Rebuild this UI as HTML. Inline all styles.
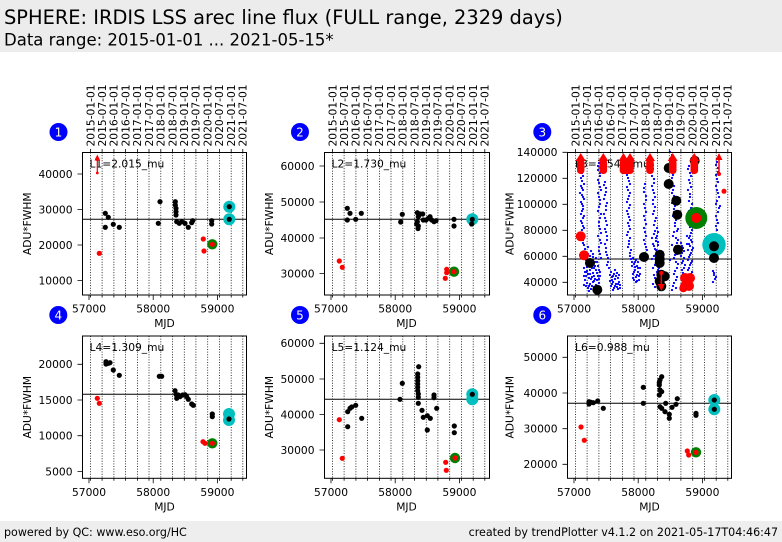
<!DOCTYPE html>
<html><head><meta charset="utf-8"><style>
html,body{margin:0;padding:0;background:#fff;}
body{width:782px;height:542px;overflow:hidden;}
svg{display:block;}
text{font-family:"DejaVu Sans","Liberation Sans",sans-serif;fill:#000;}
.t{font-size:10.7px;}
.n{font-size:12px;fill:#ffffe0;}
.dot{fill:none;stroke:#000;stroke-width:0.8;stroke-dasharray:1,1.6;}
.tk{stroke:#000;stroke-width:0.8;fill:none;}
.sp{fill:none;stroke:#000;stroke-width:1;}
.k{fill:#000;}
.r{fill:#ff0000;}
.g{fill:#008000;}
.c{fill:#00bfbf;}
</style></head><body>
<svg width="782" height="542" viewBox="0 0 782 542" xmlns="http://www.w3.org/2000/svg">
<rect x="0" y="0" width="782" height="52" fill="#ececec"/>
<text x="4" y="24" style="font-size:19.4px">SPHERE: IRDIS LSS arec line flux (FULL range, 2329 days)</text>
<text x="4" y="45.5" style="font-size:16.5px">Data range: 2015-01-01 ... 2021-05-15*</text>

<rect x="0" y="521" width="782" height="21" fill="#eeeeee"/>
<text x="4" y="536" style="font-size:11.1px">powered by QC: www.eso.org/HC</text>
<text x="778" y="536" style="font-size:11.1px" text-anchor="end">created by trendPlotter v4.1.2 on 2021-05-17T04:46:47</text>

<!-- number circles -->
<circle cx="58.5" cy="132" r="9" fill="#0000ff"/><text class="n" x="58.5" y="136.3" text-anchor="middle">1</text>
<circle cx="300" cy="132" r="9" fill="#0000ff"/><text class="n" x="300" y="136.3" text-anchor="middle">2</text>
<circle cx="542.3" cy="132" r="9" fill="#0000ff"/><text class="n" x="542.3" y="136.3" text-anchor="middle">3</text>
<circle cx="58.3" cy="315" r="9" fill="#0000ff"/><text class="n" x="58.3" y="319.3" text-anchor="middle">4</text>
<circle cx="300" cy="315" r="9" fill="#0000ff"/><text class="n" x="300" y="319.3" text-anchor="middle">5</text>
<circle cx="542.3" cy="315" r="9" fill="#0000ff"/><text class="n" x="542.3" y="319.3" text-anchor="middle">6</text>

<!-- top date labels -->
<g class="t">
<text class="t" transform="translate(94.3,146.5) rotate(-90)">2015-01-01</text>
<text class="t" transform="translate(105.9,146.5) rotate(-90)">2015-07-01</text>
<text class="t" transform="translate(117.7,146.5) rotate(-90)">2016-01-01</text>
<text class="t" transform="translate(129.4,146.5) rotate(-90)">2016-07-01</text>
<text class="t" transform="translate(141.2,146.5) rotate(-90)">2017-01-01</text>
<text class="t" transform="translate(152.8,146.5) rotate(-90)">2017-07-01</text>
<text class="t" transform="translate(164.6,146.5) rotate(-90)">2018-01-01</text>
<text class="t" transform="translate(176.3,146.5) rotate(-90)">2018-07-01</text>
<text class="t" transform="translate(188.1,146.5) rotate(-90)">2019-01-01</text>
<text class="t" transform="translate(199.7,146.5) rotate(-90)">2019-07-01</text>
<text class="t" transform="translate(211.5,146.5) rotate(-90)">2020-01-01</text>
<text class="t" transform="translate(223.2,146.5) rotate(-90)">2020-07-01</text>
<text class="t" transform="translate(235,146.5) rotate(-90)">2021-01-01</text>
<text class="t" transform="translate(246.6,146.5) rotate(-90)">2021-07-01</text>
<text class="t" transform="translate(336.3,146.5) rotate(-90)">2015-01-01</text>
<text class="t" transform="translate(347.9,146.5) rotate(-90)">2015-07-01</text>
<text class="t" transform="translate(359.7,146.5) rotate(-90)">2016-01-01</text>
<text class="t" transform="translate(371.4,146.5) rotate(-90)">2016-07-01</text>
<text class="t" transform="translate(383.2,146.5) rotate(-90)">2017-01-01</text>
<text class="t" transform="translate(394.8,146.5) rotate(-90)">2017-07-01</text>
<text class="t" transform="translate(406.6,146.5) rotate(-90)">2018-01-01</text>
<text class="t" transform="translate(418.3,146.5) rotate(-90)">2018-07-01</text>
<text class="t" transform="translate(430.1,146.5) rotate(-90)">2019-01-01</text>
<text class="t" transform="translate(441.7,146.5) rotate(-90)">2019-07-01</text>
<text class="t" transform="translate(453.5,146.5) rotate(-90)">2020-01-01</text>
<text class="t" transform="translate(465.2,146.5) rotate(-90)">2020-07-01</text>
<text class="t" transform="translate(477,146.5) rotate(-90)">2021-01-01</text>
<text class="t" transform="translate(488.6,146.5) rotate(-90)">2021-07-01</text>
<text class="t" transform="translate(579.3,146.5) rotate(-90)">2015-01-01</text>
<text class="t" transform="translate(590.9,146.5) rotate(-90)">2015-07-01</text>
<text class="t" transform="translate(602.7,146.5) rotate(-90)">2016-01-01</text>
<text class="t" transform="translate(614.4,146.5) rotate(-90)">2016-07-01</text>
<text class="t" transform="translate(626.2,146.5) rotate(-90)">2017-01-01</text>
<text class="t" transform="translate(637.8,146.5) rotate(-90)">2017-07-01</text>
<text class="t" transform="translate(649.6,146.5) rotate(-90)">2018-01-01</text>
<text class="t" transform="translate(661.3,146.5) rotate(-90)">2018-07-01</text>
<text class="t" transform="translate(673.1,146.5) rotate(-90)">2019-01-01</text>
<text class="t" transform="translate(684.7,146.5) rotate(-90)">2019-07-01</text>
<text class="t" transform="translate(696.5,146.5) rotate(-90)">2020-01-01</text>
<text class="t" transform="translate(708.2,146.5) rotate(-90)">2020-07-01</text>
<text class="t" transform="translate(720,146.5) rotate(-90)">2021-01-01</text>
<text class="t" transform="translate(731.6,146.5) rotate(-90)">2021-07-01</text>
</g>

<!-- top ticks for top row -->
<path class="tk" d="M90.5 152.5v-3.5M102.1 152.5v-3.5M113.9 152.5v-3.5M125.6 152.5v-3.5M137.4 152.5v-3.5M149 152.5v-3.5M160.8 152.5v-3.5M172.5 152.5v-3.5M184.3 152.5v-3.5M195.9 152.5v-3.5M207.7 152.5v-3.5M219.4 152.5v-3.5M231.2 152.5v-3.5M242.8 152.5v-3.5
M332.5 152.5v-3.5M344.1 152.5v-3.5M355.9 152.5v-3.5M367.6 152.5v-3.5M379.4 152.5v-3.5M391 152.5v-3.5M402.8 152.5v-3.5M414.5 152.5v-3.5M426.3 152.5v-3.5M437.9 152.5v-3.5M449.7 152.5v-3.5M461.4 152.5v-3.5M473.2 152.5v-3.5M484.8 152.5v-3.5
M575.5 152.5v-3.5M587.1 152.5v-3.5M598.9 152.5v-3.5M610.6 152.5v-3.5M622.4 152.5v-3.5M634 152.5v-3.5M645.8 152.5v-3.5M657.5 152.5v-3.5M669.3 152.5v-3.5M680.9 152.5v-3.5M692.7 152.5v-3.5M704.4 152.5v-3.5M716.2 152.5v-3.5M727.8 152.5v-3.5"/>

<!-- dotted lines -->
<path class="dot" d="M90.5 152.5V295M102.1 152.5V295M113.9 152.5V295M125.6 152.5V295M137.4 152.5V295M149 152.5V295M160.8 152.5V295M172.5 152.5V295M184.3 152.5V295M195.9 152.5V295M207.7 152.5V295M219.4 152.5V295M231.2 152.5V295M242.8 152.5V295
M332.5 152.5V295M344.1 152.5V295M355.9 152.5V295M367.6 152.5V295M379.4 152.5V295M391 152.5V295M402.8 152.5V295M414.5 152.5V295M426.3 152.5V295M437.9 152.5V295M449.7 152.5V295M461.4 152.5V295M473.2 152.5V295M484.8 152.5V295
M575.5 152.5V295M587.1 152.5V295M598.9 152.5V295M610.6 152.5V295M622.4 152.5V295M634 152.5V295M645.8 152.5V295M657.5 152.5V295M669.3 152.5V295M680.9 152.5V295M692.7 152.5V295M704.4 152.5V295M716.2 152.5V295M727.8 152.5V295
M90.5 336V478.3M102.1 336V478.3M113.9 336V478.3M125.6 336V478.3M137.4 336V478.3M149 336V478.3M160.8 336V478.3M172.5 336V478.3M184.3 336V478.3M195.9 336V478.3M207.7 336V478.3M219.4 336V478.3M231.2 336V478.3M242.8 336V478.3
M332.5 336V478.3M344.1 336V478.3M355.9 336V478.3M367.6 336V478.3M379.4 336V478.3M391 336V478.3M402.8 336V478.3M414.5 336V478.3M426.3 336V478.3M437.9 336V478.3M449.7 336V478.3M461.4 336V478.3M473.2 336V478.3M484.8 336V478.3
M575.5 336V478.3M587.1 336V478.3M598.9 336V478.3M610.6 336V478.3M622.4 336V478.3M634 336V478.3M645.8 336V478.3M657.5 336V478.3M669.3 336V478.3M680.9 336V478.3M692.7 336V478.3M704.4 336V478.3M716.2 336V478.3M727.8 336V478.3"/>

<!-- ticks -->
<path class="tk" d="M90.5 295v2.5M102.1 295v2.5M113.9 295v2.5M125.6 295v2.5M137.4 295v2.5M149 295v2.5M160.8 295v2.5M172.5 295v2.5M184.3 295v2.5M195.9 295v2.5M207.7 295v2.5M219.4 295v2.5M231.2 295v2.5M242.8 295v2.5
M332.5 295v2.5M344.1 295v2.5M355.9 295v2.5M367.6 295v2.5M379.4 295v2.5M391 295v2.5M402.8 295v2.5M414.5 295v2.5M426.3 295v2.5M437.9 295v2.5M449.7 295v2.5M461.4 295v2.5M473.2 295v2.5M484.8 295v2.5
M575.5 295v2.5M587.1 295v2.5M598.9 295v2.5M610.6 295v2.5M622.4 295v2.5M634 295v2.5M645.8 295v2.5M657.5 295v2.5M669.3 295v2.5M680.9 295v2.5M692.7 295v2.5M704.4 295v2.5M716.2 295v2.5M727.8 295v2.5
M90.5 478.3v2.5M102.1 478.3v2.5M113.9 478.3v2.5M125.6 478.3v2.5M137.4 478.3v2.5M149 478.3v2.5M160.8 478.3v2.5M172.5 478.3v2.5M184.3 478.3v2.5M195.9 478.3v2.5M207.7 478.3v2.5M219.4 478.3v2.5M231.2 478.3v2.5M242.8 478.3v2.5
M332.5 478.3v2.5M344.1 478.3v2.5M355.9 478.3v2.5M367.6 478.3v2.5M379.4 478.3v2.5M391 478.3v2.5M402.8 478.3v2.5M414.5 478.3v2.5M426.3 478.3v2.5M437.9 478.3v2.5M449.7 478.3v2.5M461.4 478.3v2.5M473.2 478.3v2.5M484.8 478.3v2.5
M575.5 478.3v2.5M587.1 478.3v2.5M598.9 478.3v2.5M610.6 478.3v2.5M622.4 478.3v2.5M634 478.3v2.5M645.8 478.3v2.5M657.5 478.3v2.5M669.3 478.3v2.5M680.9 478.3v2.5M692.7 478.3v2.5M704.4 478.3v2.5M716.2 478.3v2.5M727.8 478.3v2.5
M89 295v5M153.2 295v5M217.4 295v5M331 295v5M395.2 295v5M459.4 295v5M574 295v5M638.2 295v5M702.4 295v5
M89 478.3v5M153.2 478.3v5M217.4 478.3v5M331 478.3v5M395.2 478.3v5M459.4 478.3v5M574 478.3v5M638.2 478.3v5M702.4 478.3v5
M77.5 174h5M77.5 209.5h5M77.5 245h5M77.5 280.5h5
M319.5 166h5M319.5 202h5M319.5 238h5M319.5 273.5h5
M562.5 152.3h5M562.5 178.3h5M562.5 204.3h5M562.5 230.3h5M562.5 256.3h5M562.5 282.3h5
M77.5 364.3h5M77.5 400h5M77.5 435.7h5M77.5 471.4h5
M319.5 343.3h5M319.5 379h5M319.5 414.5h5M319.5 450h5
M562.5 357.3h5M562.5 393h5M562.5 428.7h5M562.5 464.3h5"/>

<!-- x tick labels -->
<g class="t" text-anchor="middle">
<text class="t" x="89" y="312.5">57000</text><text class="t" x="153.2" y="312.5">58000</text><text class="t" x="217.4" y="312.5">59000</text>
<text class="t" x="331" y="312.5">57000</text><text class="t" x="395.2" y="312.5">58000</text><text class="t" x="459.4" y="312.5">59000</text>
<text class="t" x="574" y="312.5">57000</text><text class="t" x="638.2" y="312.5">58000</text><text class="t" x="702.4" y="312.5">59000</text>
<text class="t" x="89" y="495.8">57000</text><text class="t" x="153.2" y="495.8">58000</text><text class="t" x="217.4" y="495.8">59000</text>
<text class="t" x="331" y="495.8">57000</text><text class="t" x="395.2" y="495.8">58000</text><text class="t" x="459.4" y="495.8">59000</text>
<text class="t" x="574" y="495.8">57000</text><text class="t" x="638.2" y="495.8">58000</text><text class="t" x="702.4" y="495.8">59000</text>
<text class="t" x="164.5" y="327">MJD</text><text class="t" x="406.5" y="327">MJD</text><text class="t" x="649.5" y="327">MJD</text>
<text class="t" x="164.5" y="510.3">MJD</text><text class="t" x="406.5" y="510.3">MJD</text><text class="t" x="649.5" y="510.3">MJD</text>
<text class="t" transform="translate(31,223.75) rotate(-90)">ADU*FWHM</text>
<text class="t" transform="translate(273,223.75) rotate(-90)">ADU*FWHM</text>
<text class="t" transform="translate(513.5,223.75) rotate(-90)">ADU*FWHM</text>
<text class="t" transform="translate(31,407.2) rotate(-90)">ADU*FWHM</text>
<text class="t" transform="translate(273,407.2) rotate(-90)">ADU*FWHM</text>
<text class="t" transform="translate(513.5,407.2) rotate(-90)">ADU*FWHM</text>
</g>

<!-- y tick labels -->
<g class="t" text-anchor="end">
<text class="t" x="72.5" y="177.9">40000</text><text class="t" x="72.5" y="213.4">30000</text><text class="t" x="72.5" y="248.9">20000</text><text class="t" x="72.5" y="284.4">10000</text>
<text class="t" x="314.5" y="169.9">60000</text><text class="t" x="314.5" y="205.9">50000</text><text class="t" x="314.5" y="241.9">40000</text><text class="t" x="314.5" y="277.4">30000</text>
<text class="t" x="557.5" y="156.2">140000</text><text class="t" x="557.5" y="182.2">120000</text><text class="t" x="557.5" y="208.2">100000</text><text class="t" x="557.5" y="234.2">80000</text><text class="t" x="557.5" y="260.2">60000</text><text class="t" x="557.5" y="286.2">40000</text>
<text class="t" x="72.5" y="368.2">20000</text><text class="t" x="72.5" y="403.9">15000</text><text class="t" x="72.5" y="439.6">10000</text><text class="t" x="72.5" y="475.3">5000</text>
<text class="t" x="314.5" y="347.2">60000</text><text class="t" x="314.5" y="382.9">50000</text><text class="t" x="314.5" y="418.4">40000</text><text class="t" x="314.5" y="453.9">30000</text>
<text class="t" x="557.5" y="361.2">50000</text><text class="t" x="557.5" y="396.9">40000</text><text class="t" x="557.5" y="432.6">30000</text><text class="t" x="557.5" y="468.2">20000</text>
</g>

<!-- reference lines -->
<path stroke="#000" stroke-width="1" d="M82.5 219.3H246.5M324.5 219.3H489.5M567.5 259H731.5M82.5 394.3H246.5M324.5 399.3H489.5M567.5 403.3H731.5"/>

<!-- annotation labels -->
<text class="t" x="89.5" y="167.5">L1=2.015_mu</text>
<text class="t" x="331.5" y="167.5">L2=1.730_mu</text>
<text class="t" x="575" y="167.5">L3=1.545_mu</text>
<text class="t" x="89.5" y="351">L4=1.309_mu</text>
<text class="t" x="331.5" y="351">L5=1.124_mu</text>
<text class="t" x="575" y="351">L6=0.988_mu</text>

<!-- PANEL 1 -->
<circle class="c" cx="229.3" cy="206.7" r="6"/><circle class="c" cx="229.3" cy="219.3" r="6"/>
<circle class="g" cx="212.3" cy="244.3" r="5.2"/>
<g class="k">
<circle cx="105.3" cy="213.3" r="2.6"/><circle cx="105.3" cy="227.3" r="2.6"/><circle cx="108.3" cy="217.3" r="2.6"/><circle cx="113.3" cy="224.3" r="2.6"/><circle cx="119.3" cy="227.3" r="2.6"/><circle cx="158.3" cy="223.3" r="2.6"/><circle cx="160" cy="201.7" r="2.6"/><circle cx="175.3" cy="201.7" r="2.6"/><circle cx="175.3" cy="205" r="2.6"/><circle cx="176" cy="208.3" r="2.6"/><circle cx="176" cy="211.7" r="2.6"/><circle cx="176" cy="215" r="2.6"/><circle cx="176.7" cy="221.7" r="2.6"/><circle cx="179.3" cy="223.3" r="2.6"/><circle cx="181.7" cy="221.7" r="2.6"/><circle cx="185" cy="223.3" r="2.6"/><circle cx="188.3" cy="227.3" r="2.6"/><circle cx="191.7" cy="222.7" r="2.6"/><circle cx="192.7" cy="220.7" r="2.6"/><circle cx="211.7" cy="220.7" r="2.6"/><circle cx="211.7" cy="224" r="2.6"/><circle cx="229.3" cy="206.7" r="2.6"/><circle cx="229.3" cy="219.3" r="2.6"/>
</g>
<g class="r">
<circle cx="99.3" cy="253.3" r="2.6"/><circle cx="203.3" cy="239" r="2.6"/><circle cx="204" cy="251" r="2.6"/><circle cx="212.3" cy="244.3" r="2.6"/>
<path d="M94.5 160.5L100.1 160.5L97.3 154.5Z"/><circle cx="97.3" cy="173" r="1.4"/><circle cx="97.3" cy="159" r="2"/>
</g>
<path d="M97.3 157V173" stroke="#ff0000" stroke-width="1.2"/>

<!-- PANEL 2 -->
<circle class="c" cx="472.3" cy="219.3" r="6"/>
<circle class="g" cx="454" cy="271.7" r="5.2"/>
<g class="k">
<circle cx="347.3" cy="208.3" r="2.6"/><circle cx="347.3" cy="220" r="2.6"/><circle cx="350" cy="213.3" r="2.6"/><circle cx="355.7" cy="219.3" r="2.6"/><circle cx="361.3" cy="213.3" r="2.6"/><circle cx="400.7" cy="222" r="2.6"/><circle cx="402.3" cy="214.3" r="2.6"/>
<circle cx="417.3" cy="212.7" r="2.6"/><circle cx="418.3" cy="216.7" r="2.6"/><circle cx="417.3" cy="221.7" r="2.6"/><circle cx="418.3" cy="226" r="2.6"/><circle cx="418" cy="228.5" r="2.6"/><circle cx="416.7" cy="224" r="2.6"/><circle cx="420" cy="214" r="2.6"/><circle cx="422.7" cy="214" r="2.6"/><circle cx="423.3" cy="220" r="2.6"/><circle cx="426" cy="220" r="2.6"/><circle cx="428.3" cy="218.3" r="2.6"/><circle cx="430" cy="216.7" r="2.6"/><circle cx="431.7" cy="220" r="2.6"/><circle cx="434" cy="221.7" r="2.6"/><circle cx="436" cy="220.7" r="2.6"/>
<circle cx="454" cy="219.3" r="2.6"/><circle cx="454" cy="226" r="2.6"/><circle cx="471.7" cy="224" r="2.6"/><circle cx="472.3" cy="219.3" r="2.6"/>
</g>
<g class="r">
<circle cx="339.3" cy="261" r="2.6"/><circle cx="342.3" cy="267.3" r="2.6"/><circle cx="445.3" cy="278.3" r="2.6"/><circle cx="446.7" cy="269.3" r="2.6"/><circle cx="446.7" cy="272.7" r="2.6"/><circle cx="454" cy="271.7" r="2.6"/>
</g>

<!-- PANEL 3 -->
<path fill="none" stroke="#0000ff" stroke-width="2.3" stroke-linecap="round" d="M581 161h0M582 166h0M581 171h0M583 176h0M582 181h0M581 186h0M583 190h0M582 195h0M584 199h0M582 204h0M583 209h0M581 214h0M583 218h0M582 223h0M584 228h0M582 233h0M583 240h0M584 245h0M585 249h0
M585 252h0M588 254h0M591 251h0M587 258h0M590 260h0M593 257h0M586 263h0M589 266h0M592 264h0M595 262h0M584 268h0M587 271h0M590 270h0M593 273h0M596 270h0M586 276h0M589 278h0M592 277h0M595 279h0M598 276h0M587 283h0M590 284h0M593 282h0M596 285h0M599 283h0M588 288h0M591 289h0M594 287h0M597 290h0M585 280h0M600 272h0M594 268h0M598 266h0M590 274h0M596 258h0M588 247h0M584 285h0M589 291h0M592 260h0M586 272h0M594 276h0M597 280h0
M599 163h0M598 170h0M600 176h0M599 183h0M601 190h0M599 197h0M600 204h0M598 211h0M600 218h0M599 226h0M601 233h0M600 240h0M599 247h0M600 254h0
M605 182h0M606 188h0M605 195h0M607 203h0M606 210h0M605 218h0M607 225h0M606 232h0M607 240h0M606 248h0M607 255h0M608 262h0M609 268h0
M611 272h0M614 274h0M617 273h0M612 277h0M615 279h0M618 278h0M613 282h0M616 284h0M619 282h0M611 286h0M614 288h0M617 287h0M620 285h0M612 280h0M615 270h0M618 289h0
M628 160h0M627 166h0M629 172h0M628 178h0M630 184h0M628 190h0M629 196h0M627 202h0M629 208h0M628 214h0M630 220h0M629 226h0M628 232h0M630 238h0M629 244h0M631 250h0M630 256h0
M633 258h0M636 260h0M634 264h0M637 266h0M635 270h0M638 272h0M633 274h0M636 277h0M639 276h0M634 280h0M637 281h0M640 268h0M632 262h0M638 262h0
M645 184h0M644 192h0M646 200h0M645 208h0M644 216h0M646 224h0M645 232h0M644 240h0M646 247h0
M652 162h0M653 169h0M652 176h0M654 183h0M653 190h0M655 197h0M653 204h0M654 211h0M656 218h0M654 225h0M655 231h0M657 236h0M656 241h0M658 245h0M655 249h0M657 252h0M654 256h0M656 262h0M653 268h0M657 272h0M655 278h0M658 283h0M652 238h0M658 232h0M653 244h0M659 268h0M655 287h0M660 290h0
M670 152h0M671 158h0M673 164h0M671 172h0M672 178h0M674 186h0M672 193h0M673 199h0M675 206h0M674 212h0M676 220h0M675 226h0M674 232h0M676 238h0M677 243h0M675 255h0M676 262h0M677 268h0M674 274h0M676 280h0M673 286h0M678 229h0M672 245h0M670 260h0M672 290h0
M689 166h0M690 173h0M689 180h0M691 187h0M690 194h0M689 201h0M691 208h0M690 214h0M692 221h0M690 227h0M691 233h0M689 238h0M692 242h0M690 246h0M688 250h0M691 253h0M689 257h0M692 261h0M690 265h0M688 270h0M691 274h0M687 236h0M693 248h0M687 244h0
M681 243h0M683 248h0M682 253h0M684 258h0M682 263h0M684 268h0M683 273h0
M717 162h0M718 168h0M716 175h0M718 182h0M717 190h0M719 197h0M716 204h0M718 212h0M717 220h0M716 226h0M720 206h0M715 238h0
M713 271h0M714 275h0M715 279h0M713 282h0
M580 163h0M583 168h0M582 173h0M581 178h0M584 184h0M582 188h0M580 193h0M583 197h0M581 202h0M583 206h0M582 211h0M584 216h0M581 221h0M583 226h0M582 230h0M584 236h0M581 238h0M583 243h0
M584 255h0M587 256h0M590 256h0M593 254h0M586 260h0M589 262h0M592 268h0M595 266h0M597 262h0M585 272h0M588 274h0M591 279h0M594 281h0M597 273h0M599 279h0M586 286h0M589 286h0M592 286h0M595 290h0M598 288h0M584 276h0M587 267h0M600 276h0M599 270h0
M598 166h0M600 173h0M598 180h0M600 187h0M598 193h0M600 200h0M599 207h0M601 214h0M599 222h0M600 229h0M598 236h0M601 243h0M599 251h0M601 258h0M604 185h0M606 192h0M604 199h0M606 206h0M604 214h0M606 221h0M605 229h0M607 236h0M605 244h0M606 252h0M608 258h0M607 265h0
M610 275h0M613 276h0M616 276h0M619 275h0M612 284h0M615 286h0M618 284h0M620 288h0M610 281h0M613 290h0
M627 163h0M629 169h0M627 175h0M629 181h0M627 187h0M630 193h0M628 199h0M630 205h0M627 211h0M629 217h0M628 223h0M630 229h0M627 235h0M629 241h0M628 247h0M630 253h0M631 259h0
M632 266h0M635 267h0M638 268h0M634 272h0M637 275h0M640 274h0M633 278h0M636 282h0M639 280h0M635 262h0
M644 188h0M646 196h0M644 204h0M646 212h0M645 220h0M644 228h0M646 236h0M645 244h0M647 250h0
M653 165h0M652 172h0M654 179h0M652 186h0M654 193h0M653 200h0M655 207h0M653 214h0M655 221h0M657 228h0M654 234h0M656 238h0M658 242h0M654 246h0M656 250h0M658 255h0M652 259h0M655 265h0M658 270h0M654 275h0M657 280h0M653 284h0
M672 155h0M670 162h0M672 168h0M673 175h0M671 182h0M673 190h0M674 196h0M672 203h0M674 209h0M673 216h0M675 223h0M677 231h0M673 236h0M678 240h0M676 246h0M674 250h0M677 254h0M674 258h0M678 264h0M675 271h0M677 277h0M674 283h0M676 288h0
M688 169h0M691 176h0M690 183h0M688 190h0M690 197h0M692 204h0M689 211h0M691 218h0M689 224h0M692 230h0M690 236h0M691 240h0M689 244h0M692 250h0M690 255h0M688 260h0M691 263h0M689 268h0M692 272h0M690 277h0M682 246h0M684 251h0M681 256h0M683 261h0M685 265h0M682 270h0M684 276h0
M716 165h0M718 172h0M717 179h0M716 186h0M718 193h0M717 201h0M719 208h0M716 216h0M718 223h0M717 230h0M714 273h0M716 277h0"/>
<circle class="c" cx="714" cy="244.7" r="11.7"/>
<circle class="g" cx="696.3" cy="218" r="11"/>
<g class="k">
<circle cx="590" cy="263" r="5"/><circle cx="597.3" cy="289.7" r="5"/><circle cx="644" cy="257" r="5"/><circle cx="659.7" cy="254.7" r="5"/><circle cx="659.7" cy="259" r="5"/><circle cx="659.7" cy="263" r="5"/><circle cx="661.3" cy="274.7" r="5"/><circle cx="664.7" cy="276.3" r="5"/><circle cx="659.7" cy="281.3" r="5"/><circle cx="661.3" cy="286.3" r="5"/><circle cx="668.7" cy="168" r="5"/><circle cx="668.7" cy="184" r="5"/><circle cx="676.3" cy="200.7" r="5"/><circle cx="677.3" cy="214.7" r="5"/><circle cx="678" cy="249.7" r="5"/><circle cx="694.7" cy="160.7" r="5"/><circle cx="714" cy="258" r="5"/><circle cx="714" cy="246.3" r="5"/>
</g>
<g class="r">
<circle cx="580.7" cy="236.3" r="5"/><circle cx="584" cy="255.3" r="5"/>
<circle cx="696.3" cy="218" r="5"/>
<circle cx="724" cy="191.3" r="2.5"/>
<path d="M575.7 161L585.7 161L580.7 153Z"/><rect x="577" y="159" width="7.4" height="15" rx="3.5"/>
<path d="M598.3 161L608.3 161L603.3 153Z"/><rect x="599.5" y="159" width="7.6" height="15" rx="3.5"/>
<path d="M618.5 161L628.5 161L623.5 153Z"/><path d="M625 161L635 161L630 153Z"/><rect x="619.7" y="159" width="14" height="15" rx="3.5"/>
<path d="M645 161L655 161L650 153Z"/><rect x="646.2" y="159" width="7.6" height="15" rx="3.5"/>
<path d="M667.7 161L677.7 161L672.7 153Z"/><rect x="668.9" y="159" width="7.6" height="15" rx="3.5"/>
<path d="M689.3 161L699.3 161L694.3 153Z"/><rect x="690.5" y="159" width="7.6" height="15" rx="3.5"/>
<path d="M715.5 160L722.5 160L719 153Z"/><circle cx="719" cy="174" r="2"/>
<circle cx="685" cy="278" r="5"/><circle cx="690" cy="278" r="5"/><circle cx="685" cy="286" r="5"/><circle cx="689" cy="286" r="5"/><circle cx="683.3" cy="288.3" r="4"/>
<path d="M657.8 284L664.8 284L661.3 291Z"/><circle cx="661.3" cy="273" r="2"/>
</g>
<path d="M719 155V175M661.3 273V289" stroke="#ff0000" stroke-width="1.5"/>

<!-- PANEL 4 -->
<circle class="c" cx="229" cy="414" r="6"/><circle class="c" cx="229" cy="420" r="6"/>
<circle class="g" cx="212.3" cy="443.3" r="5.2"/>
<g class="k">
<circle cx="106" cy="361.7" r="2.6"/><circle cx="106" cy="364" r="2.6"/><circle cx="108.3" cy="363.3" r="2.6"/><circle cx="110" cy="362.7" r="2.6"/><circle cx="113.3" cy="370" r="2.6"/><circle cx="119.3" cy="375.3" r="2.6"/><circle cx="159.3" cy="376.3" r="2.6"/><circle cx="161.7" cy="376.3" r="2.6"/><circle cx="175" cy="390.7" r="2.6"/><circle cx="176" cy="394.3" r="2.6"/><circle cx="176.7" cy="398.3" r="2.6"/><circle cx="178.3" cy="395" r="2.6"/><circle cx="180" cy="396.7" r="2.6"/><circle cx="182.7" cy="395" r="2.6"/><circle cx="185" cy="394.7" r="2.6"/><circle cx="186.7" cy="396.7" r="2.6"/><circle cx="188.3" cy="399.3" r="2.6"/><circle cx="191.7" cy="404" r="2.6"/><circle cx="193.3" cy="405.3" r="2.6"/><circle cx="212.3" cy="414" r="2.6"/><circle cx="212.3" cy="416.7" r="2.6"/><circle cx="229" cy="419" r="2.6"/>
</g>
<g class="r">
<circle cx="97.3" cy="398.3" r="2.6"/><circle cx="99.3" cy="403.3" r="2.6"/><circle cx="203" cy="441.7" r="2.6"/><circle cx="205" cy="443.3" r="2.6"/><circle cx="212.3" cy="443.3" r="2.6"/>
</g>

<!-- PANEL 5 -->
<circle class="c" cx="472.3" cy="394.3" r="6"/><circle class="c" cx="472.3" cy="399.3" r="6"/>
<circle class="g" cx="455" cy="458" r="5.2"/>
<g class="k">
<circle cx="347.7" cy="411.7" r="2.6"/><circle cx="347.7" cy="426.7" r="2.6"/><circle cx="350" cy="408.3" r="2.6"/><circle cx="351.7" cy="407" r="2.6"/><circle cx="355.7" cy="405.3" r="2.6"/><circle cx="361.7" cy="418.3" r="2.6"/><circle cx="400" cy="399.3" r="2.6"/><circle cx="402.3" cy="383.3" r="2.6"/><circle cx="418.7" cy="366.7" r="2.6"/><circle cx="417.7" cy="374" r="2.6"/><circle cx="417.7" cy="377.3" r="2.6"/><circle cx="417.7" cy="380.7" r="2.6"/><circle cx="417.7" cy="384" r="2.6"/><circle cx="417.7" cy="387.3" r="2.6"/><circle cx="417.7" cy="390.7" r="2.6"/><circle cx="418.3" cy="394" r="2.6"/><circle cx="418.3" cy="397.3" r="2.6"/><circle cx="418.3" cy="403.3" r="2.6"/><circle cx="422" cy="410.3" r="2.6"/><circle cx="423.3" cy="417.3" r="2.6"/><circle cx="427.3" cy="415.7" r="2.6"/><circle cx="427.3" cy="430" r="2.6"/><circle cx="430.3" cy="418.3" r="2.6"/><circle cx="434" cy="395" r="2.6"/><circle cx="434" cy="397.7" r="2.6"/><circle cx="436.7" cy="408.3" r="2.6"/><circle cx="454.3" cy="426" r="2.6"/><circle cx="454.3" cy="432.7" r="2.6"/><circle cx="472.3" cy="394.3" r="2.6"/>
</g>
<g class="r">
<circle cx="339.3" cy="419.7" r="2.6"/><circle cx="342.3" cy="458.3" r="2.6"/><circle cx="445.7" cy="462.3" r="2.6"/><circle cx="446.3" cy="470.3" r="2.6"/><circle cx="455" cy="458" r="2.6"/>
</g>

<!-- PANEL 6 -->
<circle class="c" cx="714.3" cy="400" r="6"/><circle class="c" cx="714.3" cy="409.3" r="6"/>
<circle class="g" cx="696" cy="452.3" r="5.2"/>
<g class="k">
<circle cx="589" cy="401.7" r="2.6"/><circle cx="589" cy="404" r="2.6"/><circle cx="591" cy="402.3" r="2.6"/><circle cx="593.3" cy="402.7" r="2.6"/><circle cx="597.7" cy="401" r="2.6"/><circle cx="603.3" cy="408.3" r="2.6"/><circle cx="643.3" cy="387.3" r="2.6"/><circle cx="643.3" cy="403.3" r="2.6"/><circle cx="660" cy="380" r="2.6"/><circle cx="659.3" cy="382.7" r="2.6"/><circle cx="659.3" cy="385" r="2.6"/><circle cx="660" cy="390" r="2.6"/><circle cx="661.7" cy="391.7" r="2.6"/><circle cx="659.3" cy="395" r="2.6"/><circle cx="661.7" cy="376.7" r="2.6"/><circle cx="660" cy="406.7" r="2.6"/><circle cx="661.7" cy="408.3" r="2.6"/><circle cx="665" cy="411.7" r="2.6"/><circle cx="665.7" cy="403.3" r="2.6"/><circle cx="669.3" cy="414.3" r="2.6"/><circle cx="669.3" cy="418.3" r="2.6"/><circle cx="672" cy="407.3" r="2.6"/><circle cx="676" cy="404.3" r="2.6"/><circle cx="677.3" cy="398.7" r="2.6"/><circle cx="696" cy="413.3" r="2.6"/><circle cx="696" cy="415.3" r="2.6"/><circle cx="714.3" cy="400" r="2.6"/><circle cx="714.3" cy="409.3" r="2.6"/>
</g>
<g class="r">
<circle cx="581" cy="427" r="2.6"/><circle cx="584.3" cy="440.3" r="2.6"/><circle cx="687.3" cy="451" r="2.6"/><circle cx="688.7" cy="455" r="2.6"/><circle cx="696" cy="452.3" r="2.6"/>
</g>

<!-- spines -->
<rect class="sp" x="82.5" y="152.5" width="164" height="142.5"/>
<rect class="sp" x="324.5" y="152.5" width="165" height="142.5"/>
<rect class="sp" x="567.5" y="152.5" width="164" height="142.5"/>
<rect class="sp" x="82.5" y="336" width="164" height="142.3"/>
<rect class="sp" x="324.5" y="336" width="165" height="142.3"/>
<rect class="sp" x="567.5" y="336" width="164" height="142.3"/>
</svg>
</body></html>
